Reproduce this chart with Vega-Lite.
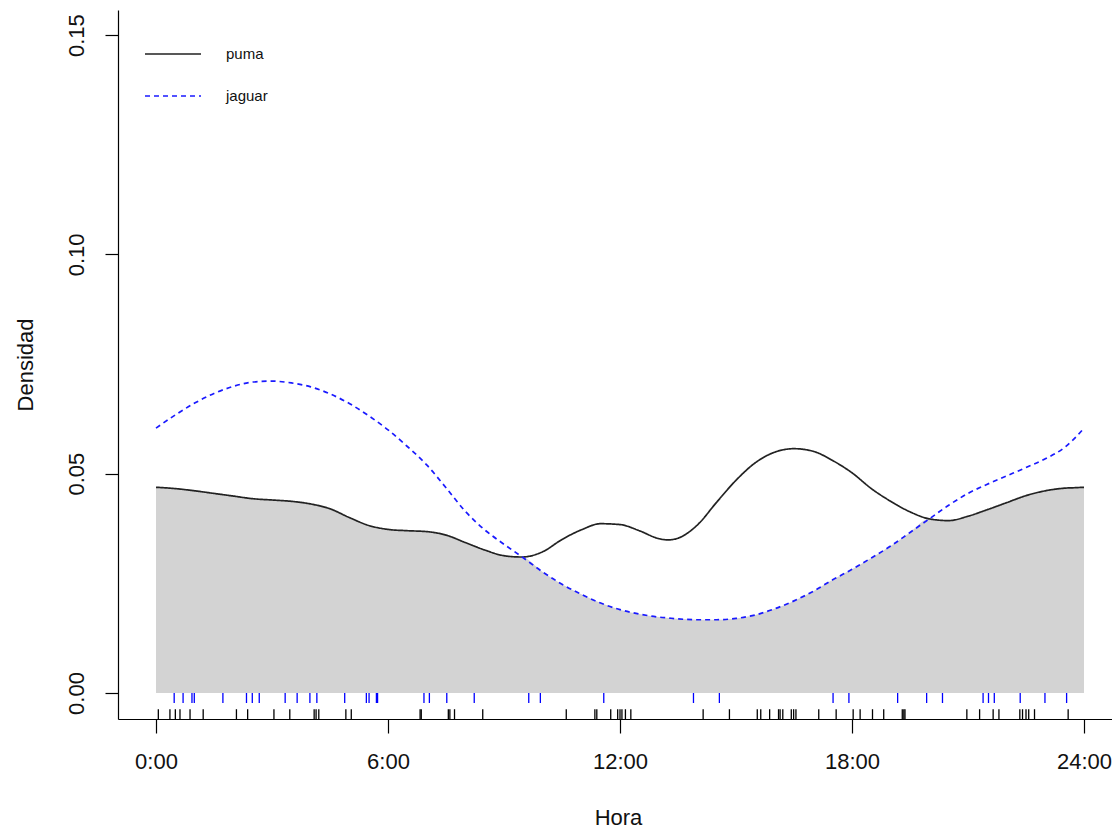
{
  "$schema": "https://vega.github.io/schema/vega-lite/v6.json",
  "width": 994,
  "height": 709,
  "autosize": {"type": "none"},
  "padding": {"left": 118, "top": 10, "right": 0, "bottom": 109},
  "background": "white",
  "config": {
    "view": {"stroke": null},
    "font": "Liberation Sans",
    "axis": {
      "grid": false,
      "domainColor": "#000000",
      "domainWidth": 1.2,
      "tickColor": "#000000",
      "tickWidth": 1.2,
      "labelColor": "#111111",
      "labelFont": "Liberation Sans",
      "labelFontSize": 22,
      "titleFont": "Liberation Sans",
      "titleFontSize": 22,
      "titleFontWeight": "normal",
      "titleColor": "#111111"
    }
  },
  "datasets": {
    "curves": [
      {"hour": 0, "puma": 0.0469, "jaguar": 0.0604, "overlap": 0.0469},
      {"hour": 0.5, "puma": 0.0466, "jaguar": 0.0634, "overlap": 0.0466},
      {"hour": 1.0, "puma": 0.0461, "jaguar": 0.0661, "overlap": 0.0461},
      {"hour": 1.5, "puma": 0.0455, "jaguar": 0.0683, "overlap": 0.0455},
      {"hour": 2.0, "puma": 0.0449, "jaguar": 0.0699, "overlap": 0.0449},
      {"hour": 2.5, "puma": 0.0443, "jaguar": 0.0709, "overlap": 0.0443},
      {"hour": 3.0, "puma": 0.0440, "jaguar": 0.0711, "overlap": 0.0440},
      {"hour": 3.5, "puma": 0.0437, "jaguar": 0.0707, "overlap": 0.0437},
      {"hour": 4.0, "puma": 0.0431, "jaguar": 0.0698, "overlap": 0.0431},
      {"hour": 4.5, "puma": 0.0420, "jaguar": 0.0682, "overlap": 0.0420},
      {"hour": 5.0, "puma": 0.0400, "jaguar": 0.0660, "overlap": 0.0400},
      {"hour": 5.5, "puma": 0.0382, "jaguar": 0.0632, "overlap": 0.0382},
      {"hour": 6.0, "puma": 0.0373, "jaguar": 0.0600, "overlap": 0.0373},
      {"hour": 6.5, "puma": 0.0370, "jaguar": 0.0562, "overlap": 0.0370},
      {"hour": 7.0, "puma": 0.0368, "jaguar": 0.0520, "overlap": 0.0368},
      {"hour": 7.5, "puma": 0.0360, "jaguar": 0.0468, "overlap": 0.0360},
      {"hour": 8.0, "puma": 0.0343, "jaguar": 0.0414, "overlap": 0.0343},
      {"hour": 8.5, "puma": 0.0326, "jaguar": 0.0372, "overlap": 0.0326},
      {"hour": 9.0, "puma": 0.0313, "jaguar": 0.0339, "overlap": 0.0313},
      {"hour": 9.47, "puma": 0.0310, "jaguar": 0.0310, "overlap": 0.0310},
      {"hour": 10.0, "puma": 0.0322, "jaguar": 0.0276, "overlap": 0.0276},
      {"hour": 10.5, "puma": 0.0350, "jaguar": 0.0248, "overlap": 0.0248},
      {"hour": 11.0, "puma": 0.0372, "jaguar": 0.0225, "overlap": 0.0225},
      {"hour": 11.5, "puma": 0.0386, "jaguar": 0.0205, "overlap": 0.0205},
      {"hour": 12.0, "puma": 0.0384, "jaguar": 0.0190, "overlap": 0.0190},
      {"hour": 12.5, "puma": 0.0370, "jaguar": 0.0180, "overlap": 0.0180},
      {"hour": 13.0, "puma": 0.0352, "jaguar": 0.0173, "overlap": 0.0173},
      {"hour": 13.25, "puma": 0.0349, "jaguar": 0.0171, "overlap": 0.0171},
      {"hour": 13.5, "puma": 0.0353, "jaguar": 0.0169, "overlap": 0.0169},
      {"hour": 14.0, "puma": 0.0383, "jaguar": 0.0167, "overlap": 0.0167},
      {"hour": 14.5, "puma": 0.0435, "jaguar": 0.0167, "overlap": 0.0167},
      {"hour": 15.0, "puma": 0.0485, "jaguar": 0.0170, "overlap": 0.0170},
      {"hour": 15.5, "puma": 0.0525, "jaguar": 0.0178, "overlap": 0.0178},
      {"hour": 16.0, "puma": 0.0549, "jaguar": 0.0192, "overlap": 0.0192},
      {"hour": 16.5, "puma": 0.0557, "jaguar": 0.0210, "overlap": 0.0210},
      {"hour": 17.0, "puma": 0.0551, "jaguar": 0.0232, "overlap": 0.0232},
      {"hour": 17.5, "puma": 0.0530, "jaguar": 0.0258, "overlap": 0.0258},
      {"hour": 18.0, "puma": 0.0502, "jaguar": 0.0282, "overlap": 0.0282},
      {"hour": 18.5, "puma": 0.0466, "jaguar": 0.0308, "overlap": 0.0308},
      {"hour": 19.0, "puma": 0.0437, "jaguar": 0.0335, "overlap": 0.0335},
      {"hour": 19.5, "puma": 0.0413, "jaguar": 0.0366, "overlap": 0.0366},
      {"hour": 20.0, "puma": 0.0397, "jaguar": 0.0397, "overlap": 0.0397},
      {"hour": 20.5, "puma": 0.0393, "jaguar": 0.0428, "overlap": 0.0393},
      {"hour": 21.0, "puma": 0.0403, "jaguar": 0.0455, "overlap": 0.0403},
      {"hour": 21.5, "puma": 0.0418, "jaguar": 0.0476, "overlap": 0.0418},
      {"hour": 22.0, "puma": 0.0434, "jaguar": 0.0495, "overlap": 0.0434},
      {"hour": 22.5, "puma": 0.0450, "jaguar": 0.0514, "overlap": 0.0450},
      {"hour": 23.0, "puma": 0.0461, "jaguar": 0.0534, "overlap": 0.0461},
      {"hour": 23.5, "puma": 0.0467, "jaguar": 0.0560, "overlap": 0.0467},
      {"hour": 23.75, "puma": 0.0468, "jaguar": 0.0580, "overlap": 0.0468},
      {"hour": 24.0, "puma": 0.0469, "jaguar": 0.0604, "overlap": 0.0469}
    ],
    "rug": [
      {"species": "jaguar", "hour": 0.47}, {"species": "jaguar", "hour": 0.70}, {"species": "jaguar", "hour": 0.93}, {"species": "jaguar", "hour": 0.99},
      {"species": "jaguar", "hour": 1.73}, {"species": "jaguar", "hour": 2.34}, {"species": "jaguar", "hour": 2.49}, {"species": "jaguar", "hour": 2.67},
      {"species": "jaguar", "hour": 3.34}, {"species": "jaguar", "hour": 3.65}, {"species": "jaguar", "hour": 3.98}, {"species": "jaguar", "hour": 4.16},
      {"species": "jaguar", "hour": 4.88}, {"species": "jaguar", "hour": 5.44}, {"species": "jaguar", "hour": 5.51}, {"species": "jaguar", "hour": 5.70},
      {"species": "jaguar", "hour": 5.73}, {"species": "jaguar", "hour": 6.93}, {"species": "jaguar", "hour": 7.07}, {"species": "jaguar", "hour": 7.52},
      {"species": "jaguar", "hour": 8.23}, {"species": "jaguar", "hour": 9.64}, {"species": "jaguar", "hour": 9.94}, {"species": "jaguar", "hour": 11.58},
      {"species": "jaguar", "hour": 13.90}, {"species": "jaguar", "hour": 14.57}, {"species": "jaguar", "hour": 17.51}, {"species": "jaguar", "hour": 17.92},
      {"species": "jaguar", "hour": 19.18}, {"species": "jaguar", "hour": 19.93}, {"species": "jaguar", "hour": 20.34}, {"species": "jaguar", "hour": 21.39},
      {"species": "jaguar", "hour": 21.53}, {"species": "jaguar", "hour": 21.68}, {"species": "jaguar", "hour": 22.35}, {"species": "jaguar", "hour": 22.99},
      {"species": "jaguar", "hour": 23.55},
      {"species": "puma", "hour": 0.06}, {"species": "puma", "hour": 0.36}, {"species": "puma", "hour": 0.50}, {"species": "puma", "hour": 0.62},
      {"species": "puma", "hour": 0.88}, {"species": "puma", "hour": 1.22}, {"species": "puma", "hour": 2.08}, {"species": "puma", "hour": 2.37},
      {"species": "puma", "hour": 3.05}, {"species": "puma", "hour": 3.46}, {"species": "puma", "hour": 4.09}, {"species": "puma", "hour": 4.14},
      {"species": "puma", "hour": 4.21}, {"species": "puma", "hour": 4.91}, {"species": "puma", "hour": 5.05}, {"species": "puma", "hour": 6.83},
      {"species": "puma", "hour": 6.86}, {"species": "puma", "hour": 7.56}, {"species": "puma", "hour": 7.60}, {"species": "puma", "hour": 7.72},
      {"species": "puma", "hour": 8.45}, {"species": "puma", "hour": 10.61}, {"species": "puma", "hour": 11.35}, {"species": "puma", "hour": 11.40},
      {"species": "puma", "hour": 11.76}, {"species": "puma", "hour": 11.94}, {"species": "puma", "hour": 12.00}, {"species": "puma", "hour": 12.05},
      {"species": "puma", "hour": 12.14}, {"species": "puma", "hour": 12.28}, {"species": "puma", "hour": 14.15}, {"species": "puma", "hour": 14.83},
      {"species": "puma", "hour": 15.55}, {"species": "puma", "hour": 15.64}, {"species": "puma", "hour": 15.87}, {"species": "puma", "hour": 16.10},
      {"species": "puma", "hour": 16.14}, {"species": "puma", "hour": 16.21}, {"species": "puma", "hour": 16.43}, {"species": "puma", "hour": 16.49},
      {"species": "puma", "hour": 16.55}, {"species": "puma", "hour": 17.14}, {"species": "puma", "hour": 17.59}, {"species": "puma", "hour": 18.03},
      {"species": "puma", "hour": 18.21}, {"species": "puma", "hour": 18.53}, {"species": "puma", "hour": 18.82}, {"species": "puma", "hour": 19.30},
      {"species": "puma", "hour": 19.34}, {"species": "puma", "hour": 19.37}, {"species": "puma", "hour": 20.97}, {"species": "puma", "hour": 21.30},
      {"species": "puma", "hour": 21.65}, {"species": "puma", "hour": 21.80}, {"species": "puma", "hour": 22.34}, {"species": "puma", "hour": 22.41},
      {"species": "puma", "hour": 22.50}, {"species": "puma", "hour": 22.57}, {"species": "puma", "hour": 22.72}, {"species": "puma", "hour": 23.59}
    ]
  },
  "layer": [
    {
      "data": {"name": "curves"},
      "mark": {"type": "area", "color": "#d3d3d3", "interpolate": "monotone"},
      "encoding": {
        "x": {
          "field": "hour", "type": "quantitative",
          "scale": {"domain": [-0.983, 24.724], "nice": false, "zero": false},
          "axis": {
            "orient": "bottom",
            "values": [0, 6, 12, 18, 24],
            "labelExpr": "datum.value + ':00'",
            "tickSize": 14,
            "labelBaseline": "alphabetic",
            "labelPadding": 35,
            "labelFlush": false,
            "labelOverlap": false,
            "title": "Hora",
            "titleX": 500,
            "titleY": 105,
            "titleAnchor": null,
            "titleAlign": "center",
            "titleBaseline": "alphabetic"
          }
        },
        "y": {
          "field": "overlap", "type": "quantitative",
          "scale": {"domain": [-0.00593, 0.15572], "nice": false, "zero": false},
          "axis": {
            "orient": "left",
            "values": [0, 0.05, 0.1, 0.15],
            "format": ".2f",
            "tickSize": 13,
            "labelAngle": 270,
            "labelAlign": "center",
            "labelBaseline": "alphabetic",
            "labelPadding": 22,
            "labelFlush": false,
            "labelOverlap": false,
            "title": "Densidad",
            "titleAngle": 270,
            "titleX": -86,
            "titleY": 354.5,
            "titleAlign": "center",
            "titleBaseline": "alphabetic"
          }
        }
      }
    },
    {
      "mark": {"type": "rule", "color": "#222222", "strokeWidth": 1.3},
      "encoding": {"x": {"datum": 0}, "x2": {"datum": 24}, "y": {"datum": 0}}
    },
    {
      "mark": {"type": "rule", "color": "#000000", "strokeWidth": 1.2},
      "encoding": {"y": {"datum": 0.15572}}
    },
    {
      "data": {"name": "curves"},
      "transform": [{"fold": ["puma", "jaguar"], "as": ["species", "density"]}],
      "mark": {"type": "line", "interpolate": "monotone", "strokeWidth": 1.7},
      "encoding": {
        "x": {"field": "hour", "type": "quantitative"},
        "y": {"field": "density", "type": "quantitative"},
        "color": {
          "field": "species", "type": "nominal",
          "scale": {"domain": ["puma", "jaguar"], "range": ["#222222", "#1a1aff"]},
          "legend": {
            "orient": "none",
            "legendX": 26,
            "legendY": 15,
            "title": null,
            "padding": 0,
            "symbolType": "stroke",
            "symbolSize": 3136,
            "symbolStrokeWidth": 1.5,
            "labelFontSize": 15,
            "labelFont": "Liberation Sans",
            "labelColor": "#111111",
            "labelOffset": 24,
            "rowPadding": 5
          }
        },
        "strokeDash": {
          "field": "species", "type": "nominal",
          "scale": {"domain": ["puma", "jaguar"], "range": [[1, 0], [5, 4]]},
          "legend": null
        }
      }
    },
    {
      "data": {"name": "rug"},
      "transform": [{"filter": "datum.species === 'jaguar'"}],
      "mark": {"type": "rule", "color": "#0000ff", "strokeWidth": 1.3},
      "encoding": {
        "x": {"field": "hour", "type": "quantitative"},
        "y": {"datum": 0},
        "y2": {"datum": -0.00228}
      }
    },
    {
      "data": {"name": "rug"},
      "transform": [{"filter": "datum.species === 'puma'"}],
      "mark": {"type": "rule", "color": "#000000", "strokeWidth": 1.3},
      "encoding": {
        "x": {"field": "hour", "type": "quantitative"},
        "y": {"datum": -0.0037},
        "y2": {"datum": -0.00593}
      }
    }
  ]
}
